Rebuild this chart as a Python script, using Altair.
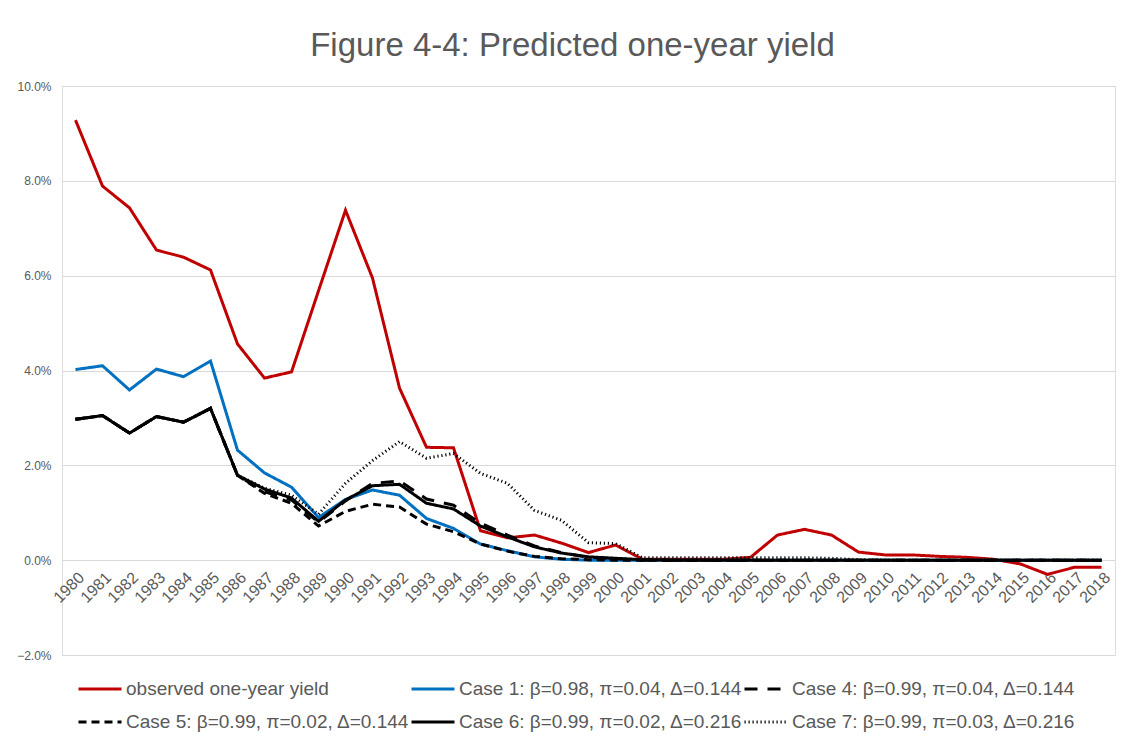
import altair as alt
import pandas as pd

years = [str(y) for y in range(1980, 2019)]

series_names = [
    "observed one-year yield",
    "Case 1: β=0.98, π=0.04, Δ=0.144",
    "Case 4: β=0.99, π=0.04, Δ=0.144",
    "Case 5: β=0.99, π=0.02, Δ=0.144",
    "Case 6: β=0.99, π=0.02, Δ=0.216",
    "Case 7: β=0.99, π=0.03, Δ=0.216",
]

observed = [9.28, 7.89, 7.43, 6.54, 6.39, 6.12, 4.56, 3.84, 3.97, 5.68,
            7.38, 5.95, 3.63, 2.38, 2.37, 0.62, 0.47, 0.53, 0.36, 0.16,
            0.32, 0.02, 0.02, 0.02, 0.02, 0.06, 0.53, 0.65, 0.53, 0.17,
            0.11, 0.11, 0.08, 0.06, 0.02, -0.08, -0.30, -0.15, -0.15]

case1 = [4.02, 4.10, 3.59, 4.03, 3.87, 4.20, 2.32, 1.84, 1.54, 0.90,
         1.28, 1.48, 1.37, 0.88, 0.67, 0.34, 0.20, 0.07, 0.02, 0.0,
         0.0, 0.0, 0.0, 0.0, 0.0, 0.0, 0.0, 0.0, 0.0, 0.0,
         0.0, 0.0, 0.0, 0.0, 0.0, 0.0, 0.0, 0.0, 0.0]

case4 = [2.97, 3.05, 2.68, 3.03, 2.91, 3.20, 1.79, 1.44, 1.27, 0.80,
         1.25, 1.62, 1.67, 1.29, 1.16, 0.78, 0.53, 0.30, 0.16, 0.06,
         0.03, 0.0, 0.0, 0.0, 0.0, 0.0, 0.0, 0.0, 0.0, 0.0,
         0.0, 0.0, 0.0, 0.0, 0.0, 0.0, 0.0, 0.0, 0.0]

case5 = [2.97, 3.05, 2.68, 3.03, 2.91, 3.20, 1.79, 1.41, 1.20, 0.72,
         1.03, 1.18, 1.12, 0.76, 0.60, 0.34, 0.19, 0.08, 0.03, 0.01,
         0.0, 0.0, 0.0, 0.0, 0.0, 0.0, 0.0, 0.0, 0.0, 0.0,
         0.0, 0.0, 0.0, 0.0, 0.0, 0.0, 0.0, 0.0, 0.0]

case6 = [2.97, 3.05, 2.68, 3.03, 2.91, 3.20, 1.79, 1.50, 1.31, 0.82,
         1.27, 1.57, 1.60, 1.20, 1.08, 0.72, 0.49, 0.28, 0.15, 0.07,
         0.04, 0.01, 0.0, 0.0, 0.0, 0.0, 0.0, 0.0, 0.0, 0.0,
         0.0, 0.0, 0.0, 0.0, 0.0, 0.0, 0.0, 0.0, 0.0]

case7 = [2.97, 3.05, 2.68, 3.03, 2.91, 3.20, 1.79, 1.52, 1.37, 0.97,
         1.62, 2.10, 2.50, 2.15, 2.25, 1.83, 1.62, 1.05, 0.84, 0.37,
         0.35, 0.05, 0.05, 0.05, 0.05, 0.05, 0.05, 0.05, 0.04, 0.01,
         0.0, 0.0, 0.0, 0.0, 0.0, 0.0, 0.0, 0.0, 0.0]

values = [observed, case1, case4, case5, case6, case7]
colors = ["#C00000", "#0070C0", "#000000", "#000000", "#000000", "#000000"]
dashes = [[1, 0], [1, 0], [13, 10], [8, 5], [1, 0], [1.2, 2.8]]
widths = [3, 3, 3, 3, 3, 1.2]
y_ticks = [-2, 0, 2, 4, 6, 8, 10]

rows = []
for name, vals in zip(series_names, values):
    for yr, v in zip(years, vals):
        rows.append({"year": yr, "value": v, "series": name})
df = pd.DataFrame(rows)

legend = alt.Legend(
    title=None,
    orient="none",
    legendX=15,
    legendY=580,
    direction="horizontal",
    columns=3,
    gridAlign="all",
    columnPadding=-8,
    rowPadding=-12,
    symbolType="stroke",
    symbolSize=1849,
    symbolStrokeWidth=3,
    labelFont="Liberation Sans",
    labelFontSize=19,
    labelColor="#595959",
    labelOffset=3,
    labelLimit=400,
)

chart = (
    alt.Chart(df)
    .mark_line(strokeJoin="miter")
    .encode(
        x=alt.X(
            "year:O",
            sort=years,
            scale=alt.Scale(type="point", padding=0.5),
            axis=alt.Axis(
                title=None,
                labelAngle=-45,
                labelFontSize=16,
                labelFont="Liberation Sans",
                labelColor="#595959",
                domain=False,
                ticks=False,
                grid=False,
                offset=-95,
                labelPadding=9,
            ),
        ),
        y=alt.Y(
            "value:Q",
            scale=alt.Scale(domain=[-2, 10], nice=False),
            axis=alt.Axis(
                title=None,
                values=y_ticks,
                labelExpr="format(datum.value, '.1f') + '%'",
                labelFontSize=12,
                labelFont="Liberation Sans",
                labelColor="#595959",
                domain=False,
                ticks=False,
                gridColor="#d9d9d9",
                gridWidth=1,
                labelPadding=11,
            ),
        ),
        color=alt.Color(
            "series:N",
            sort=series_names,
            scale=alt.Scale(domain=series_names, range=colors),
            legend=legend,
        ),
        strokeDash=alt.StrokeDash(
            "series:N",
            sort=series_names,
            scale=alt.Scale(domain=series_names, range=dashes),
            legend=legend,
        ),
        strokeWidth=alt.StrokeWidth(
            "series:N",
            sort=series_names,
            scale=alt.Scale(domain=series_names, range=widths),
            legend=legend,
        ),
        order=alt.Order("year:O"),
    )
    .properties(
        width=1053,
        height=569,
        title=alt.TitleParams(
            "Figure 4-4: Predicted one-year yield",
            font="Liberation Sans",
            fontSize=33,
            fontWeight="normal",
            color="#595959",
            anchor="middle",
            frame="group",
            dx=-16,
            offset=17,
        ),
        autosize=alt.AutoSizeParams(type="none"),
        padding={"left": 54, "top": 78, "right": 6, "bottom": 82},
    )
    .configure_view(stroke=None)
    .configure(background="white")
)

chart.save("out.html", embed_options={"renderer": "svg", "actions": False})
